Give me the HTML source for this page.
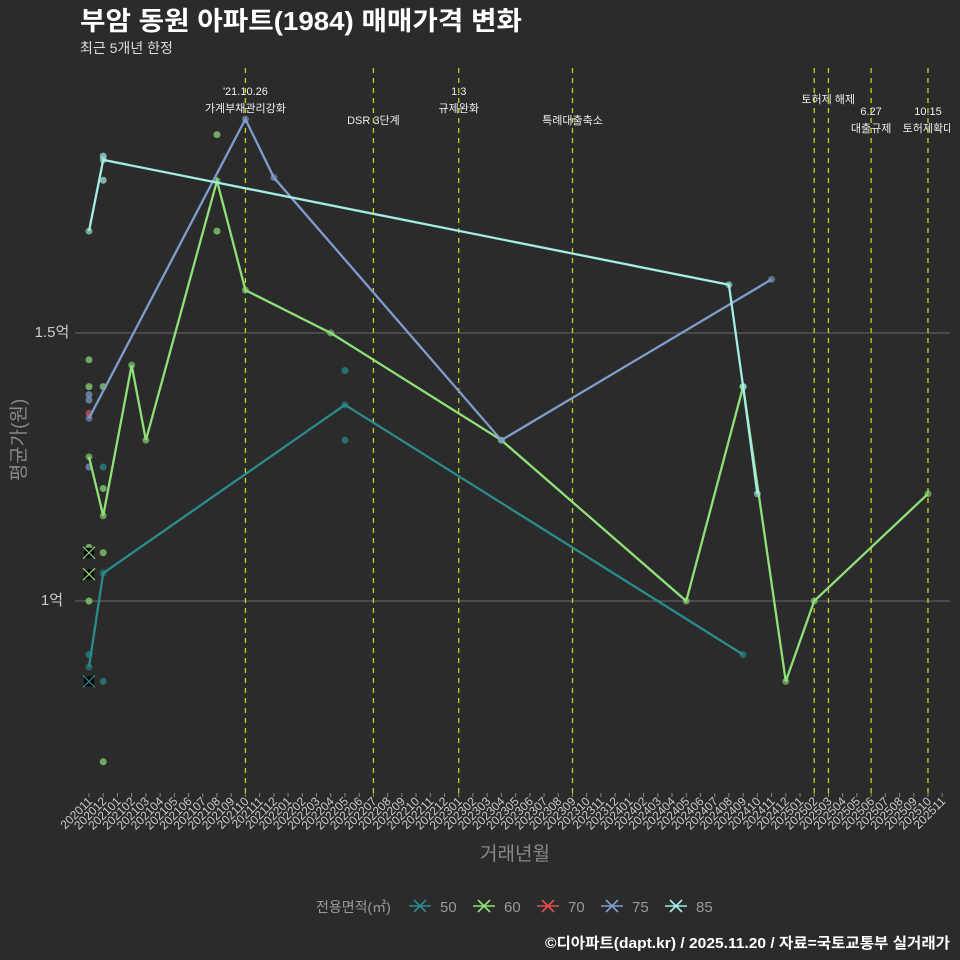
<!DOCTYPE html>
<html><head><meta charset="utf-8"><style>
body{margin:0;background:#2b2b2b;}
svg{display:block;font-family:"Liberation Sans","Noto Sans CJK KR",sans-serif;}
</style></head><body>
<svg id="c" width="960" height="960" viewBox="0 0 960 960">
<defs><clipPath id="pc"><rect x="60" y="60" width="890" height="740"/></clipPath></defs>
<rect width="960" height="960" fill="#2b2b2b"/>
<text x="80" y="30" fill="#ffffff" font-size="26" font-weight="bold" textLength="442" lengthAdjust="spacingAndGlyphs">부암 동원 아파트(1984) 매매가격 변화</text>
<text x="80" y="53" fill="#dddddd" font-size="14">최근 5개년 한정</text>
<g id="grid"></g><g id="vlines" clip-path="url(#pc)"></g><g id="pts"></g><g id="lines"></g><g id="xt"></g>
<text x="52" y="601" fill="#cccccc" font-size="15" text-anchor="middle" dominant-baseline="middle">1억</text>
<text x="52" y="333" fill="#cccccc" font-size="15" text-anchor="middle" dominant-baseline="middle">1.5억</text>
<text transform="translate(20,440) rotate(-90)" fill="#888888" font-size="19" text-anchor="middle" dominant-baseline="middle">평균가(원)</text>
<text x="515" y="860" fill="#888888" font-size="19" text-anchor="middle">거래년월</text>
<g id="legend"></g>
<text x="950" y="948" fill="#ffffff" font-size="15" font-weight="bold" text-anchor="end" textLength="405" lengthAdjust="spacingAndGlyphs">©디아파트(dapt.kr) / 2025.11.20 / 자료=국토교통부 실거래가</text>
</svg>
<script>
const months=[];for(let y=2020,m=11;months.length<61;){months.push(y+String(m).padStart(2,'0'));m++;if(m>12){m=1;y++;}}
const s50x=['202011','202012','202205','202409'];const s50v=[0.877,1.052,1.366,0.90];
const s60x=['202011','202012','202102','202103','202108','202110','202204','202304','202405','202409','202412','202502','202510'];
const s60v=[1.269,1.159,1.44,1.30,1.784,1.58,1.50,1.30,1.0,1.40,0.85,1.0,1.20];
const s75x=['202011','202110','202112','202304','202411'];const s75v=[1.341,1.899,1.79,1.30,1.60];
const s85x=['202011','202012','202408','202409','202410'];const s85v=[1.69,1.823,1.59,1.40,1.20];
const ptX=['202011','202011','202011','202011','202011','202011','202011','202011','202012','202012','202012','202012','202012','202012','202012','202012','202108','202108','202205','202205'];
const ptV=[1.45,1.40,1.385,1.375,1.25,1.10,1.0,0.90,1.83,1.785,1.40,1.25,1.21,1.09,0.85,0.70,1.87,1.69,1.43,1.30];
const ptS=['60','60','75','75','75','60','60','50','85','85','60','50','60','60','50','60','60','60','50','50'];
const redX=['202011'];const redV=[1.35];
const xMarkX=['202011','202011','202011'];const xMarkV=[1.09,1.05,0.85];const xMarkS=['60','60','50'];
const evX=['202110','202207','202301','202309','202502','202503','202506','202510'];
const evL1=["'21.10.26","","1.3","","","","6.27","10.15"];
const evL2=["가계부채관리강화","DSR 3단계","규제완화","특례대출축소","토허제 해제","","대출규제","토허제확대"];
const colors={'50':'#2a8c8c','60':'#8fe07a','70':'#e05050','75':'#7f9ccb','85':'#a5ece4'};
const NS='http://www.w3.org/2000/svg';
const X=m=>89+months.indexOf(m)*14.22;const Y=v=>601-(v-1)*536;
function mk(t,a,p){const e=document.createElementNS(NS,t);for(const k in a)e.setAttribute(k,a[k]);document.getElementById(p).appendChild(e);return e;}
[1,1.5].forEach(v=>{const l=mk('line',{x1:75,x2:950,y1:Y(v),y2:Y(v),stroke:'#6a6a6a','stroke-width':1},'grid');

});
evX.forEach((m,i)=>{const x=X(m);const l=mk('line',{x1:x,x2:x,y1:68,y2:798,stroke:'#c8d020','stroke-width':1.3,'stroke-dasharray':'5,5'},'vlines');


let y1=91,y2=108;if(!evL1[i]){y2=(i==4)?99:120;}if(i>=6){y1=111;y2=128;}
let ax=x;if(i==4)ax=x+14;
if(evL1[i]){const t=mk('text',{x:ax,y:y1+4,fill:'#eeeeee','font-size':11,'text-anchor':'middle'},'vlines');t.textContent=evL1[i];

}
if(evL2[i]){const t=mk('text',{x:ax,y:y2+4,fill:'#eeeeee','font-size':11,'text-anchor':'middle'},'vlines');t.textContent=evL2[i];

}});
ptX.forEach((m,i)=>{const c=mk('circle',{cx:X(m),cy:Y(ptV[i]),r:3.5,fill:colors[ptS[i]],opacity:0.7},'pts');

});
redX.forEach((m,i)=>{const c=mk('circle',{cx:X(m),cy:Y(redV[i]),r:3.5,fill:colors['70'],opacity:0.7},'pts');

});
xMarkX.forEach((m,i)=>{const x=X(m),y=Y(xMarkV[i]);
const r=mk('rect',{x:x-5,y:y-5,width:10,height:10,fill:'#000'},'pts');


mk('path',{d:`M${x-6} ${y-6}L${x+6} ${y+6}M${x+6} ${y-6}L${x-6} ${y+6}`,stroke:colors[xMarkS[i]],'stroke-width':1.2},'pts');});
[['50',s50x,s50v],['60',s60x,s60v],['75',s75x,s75v],['85',s85x,s85v]].forEach(([k,xs,vs])=>{
const p=mk('polyline',{points:xs.map((m,i)=>X(m)+','+Y(vs[i])).join(' '),fill:'none',stroke:colors[k],'stroke-width':2.3},'lines');


xs.forEach((m,i)=>{const c=mk('circle',{cx:X(m),cy:Y(vs[i]),r:3.5,fill:colors[k],opacity:0.6},'lines');

});});
months.forEach(m=>{const x=X(m);mk('line',{x1:x,x2:x,y1:793,y2:797,stroke:'#888'},'xt');
const t=mk('text',{transform:`translate(${x+4},802) rotate(-45)`,fill:'#cccccc','font-size':12,'text-anchor':'end'},'xt');t.textContent=m;

});
const lt=mk('text',{x:316,y:912,fill:'#999999','font-size':14},'legend');lt.textContent='전용면적(㎡)';


const lk=['50','60','70','75','85'];lk.forEach((k,i)=>{const x=420+i*64;
const pth=mk('path',{d:`M${x-11} 906H${x+11}M${x-6} 900L${x+6} 912M${x+6} 900L${x-6} 912`,stroke:colors[k],'stroke-width':1.6},'legend');


const t=mk('text',{x:x+20,y:912,fill:'#999999','font-size':15},'legend');t.textContent=k;

});
</script>
</body></html>
